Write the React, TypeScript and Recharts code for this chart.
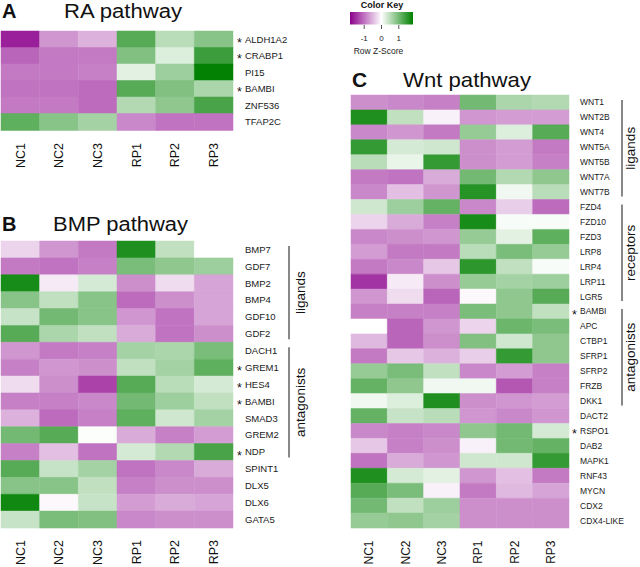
import React from 'react';
import { BarChart, Bar, XAxis, YAxis, Cell } from 'recharts';

// columns + colour key ticks
const samples = ['NC1', 'NC2', 'NC3', 'RP1', 'RP2', 'RP3'];
const sampleTicks = [0.5, 1.5, 2.5, 3.5, 4.5, 5.5];
const keyTicks = [-1, 0, 1];

// A - RA pathway (row z-scores)
const raGenes = ['ALDH1A2', 'CRABP1', 'PI15', 'BAMBI', 'ZNF536', 'TFAP2C'];
const raZ = [
  [-1.6, -0.75, -0.55, 1.2, 0.5, 0.85],
  [-1.1, -0.95, -0.95, 0.9, 0.25, 1.4],
  [-0.95, -0.95, -0.9, 0.2, 0.7, 1.8],
  [-1.0, -1.0, -1.05, 1.2, 0.9, 0.6],
  [-0.95, -0.95, -1.05, 0.55, 0.8, 1.3],
  [1.15, 0.85, 0.65, -0.85, -1.0, -1.0],
];
const raStarred = ['ALDH1A2', 'CRABP1', 'BAMBI'];

// B - BMP pathway
const bmpGenes = [
  'BMP7', 'GDF7', 'BMP2', 'BMP4', 'GDF10', 'GDF2', 'DACH1', 'GREM1', 'HES4',
  'BAMBI', 'SMAD3', 'GREM2', 'NDP', 'SPINT1', 'DLX5', 'DLX6', 'GATA5',
];
const bmpZ = [
  [-0.3, -0.75, -0.95, 1.6, 0.45, 0.0],
  [-0.95, -1.0, -0.9, 0.95, 0.8, 0.7],
  [1.65, -0.15, 0.3, -0.8, -0.25, -0.65],
  [0.85, 0.45, 0.85, -1.05, -0.8, -0.65],
  [0.4, 1.0, 0.85, -0.75, -1.0, -0.65],
  [1.2, 0.6, 0.45, -0.6, -1.0, -0.8],
  [-0.75, -0.95, -0.9, 0.65, 0.6, 0.95],
  [-0.9, -0.75, -0.8, 0.45, 0.65, 1.15],
  [-0.25, -0.8, -1.35, 1.2, 0.5, 0.3],
  [-0.9, -0.9, -0.85, 1.0, 0.7, 0.45],
  [-0.55, -1.05, -0.9, 1.15, 0.35, 0.65],
  [1.0, 1.2, 0.02, -0.6, -0.9, -0.7],
  [-0.9, -0.45, -1.0, 0.3, 0.55, 1.3],
  [1.2, 0.4, 0.65, -1.0, -0.85, -0.6],
  [0.85, 0.85, 0.45, -0.9, -0.8, -0.8],
  [1.7, -0.05, 0.4, -0.7, -0.6, -0.65],
  [0.4, 0.95, 0.9, -0.85, -0.8, -0.8],
];
const bmpStarred = ['GREM1', 'HES4', 'BAMBI', 'NDP'];
const bmpGroups = [
  { label: 'ligands', from: 0, to: 5 },
  { label: 'antagonists', from: 6, to: 12 },
];

// C - Wnt pathway
const wntGenes = [
  'WNT1', 'WNT2B', 'WNT4', 'WNT5A', 'WNT5B', 'WNT7A', 'WNT7B', 'FZD4', 'FZD10',
  'FZD3', 'LRP8', 'LRP4', 'LRP11', 'LGR5', 'BAMBI', 'APC', 'CTBP1', 'SFRP1',
  'SFRP2', 'FRZB', 'DKK1', 'DACT2', 'RSPO1', 'DAB2', 'MAPK1', 'RNF43', 'MYCN',
  'CDX2', 'CDX4-LIKE',
];
const wntZ = [
  [-0.8, -0.85, -0.9, 1.0, 0.6, 0.55],
  [1.6, 0.45, -0.1, -0.75, -0.7, -0.7],
  [-0.85, -0.75, -0.95, 0.75, 0.25, 1.2],
  [1.45, 0.3, 0.35, -0.8, -0.7, -0.95],
  [0.5, 0.15, 1.45, -0.8, -0.7, -0.9],
  [-0.95, -1.0, -0.6, 1.0, 0.55, 0.8],
  [-0.85, -0.45, -0.75, 1.55, 0.1, 0.5],
  [0.35, 0.7, 1.1, -0.85, -0.35, -1.05],
  [-0.3, -0.6, -0.9, 1.65, 0.05, 0.05],
  [-0.85, -0.8, -0.75, 0.75, 0.2, 1.15],
  [-0.7, -0.95, -0.95, 0.5, 0.95, 0.75],
  [-0.95, -0.85, -0.4, 1.5, 0.45, 0.05],
  [-1.45, -0.15, -0.8, 0.75, 0.65, 0.7],
  [-0.75, -0.25, -1.1, -0.05, 0.8, 1.2],
  [-0.9, -0.9, -0.9, 0.95, 0.8, 0.45],
  [0.0, -1.1, -0.75, -0.3, 1.05, 0.95],
  [-0.5, -1.1, -0.8, 0.9, 0.35, 0.8],
  [-0.95, -0.4, -0.55, -0.35, 1.45, 0.8],
  [0.75, 0.95, 0.45, -0.85, -0.7, -0.9],
  [1.1, 0.8, 0.1, 0.1, -1.2, -0.9],
  [0.1, 0.25, 1.6, -0.8, -0.75, -0.7],
  [1.1, 0.4, 0.5, -0.75, -0.85, -0.75],
  [-0.85, -0.9, -0.85, 0.8, 1.0, 0.3],
  [-0.4, -0.9, -0.8, -0.1, 1.0, 1.1],
  [-1.0, -0.6, -0.75, 0.35, 0.35, 1.45],
  [1.6, 0.3, 0.2, -0.75, -0.45, -0.95],
  [1.2, 0.95, -0.1, -0.95, -0.5, -0.65],
  [1.0, 0.45, 0.7, -0.8, -0.8, -0.8],
  [0.75, 0.8, 0.65, -0.8, -0.8, -0.8],
];
const wntStarred = ['BAMBI', 'RSPO1'];
const wntGroups = [
  { label: 'ligands', from: 0, to: 6 },
  { label: 'receptors', from: 7, to: 13 },
  { label: 'antagonists', from: 14, to: 20 },
];

const FONT = '"Liberation Sans", Arial, Helvetica, sans-serif';
const Z_MAX = 1.82;
const PURPLE = [140, 0, 140];
const WHITE = [255, 255, 255];
const GREEN = [0, 128, 0];

function zColor(z: number) {
  const t = Math.max(-1, Math.min(1, z / Z_MAX));
  const end = t < 0 ? PURPLE : GREEN;
  const a = Math.abs(t);
  const c = WHITE.map((w, k) => Math.round(w + (end[k] - w) * a));
  return `rgb(${c.join(',')})`;
}

type Group = { label: string; from: number; to: number };

type HeatmapProps = {
  genes: string[];
  z: number[][];
  starred: string[];
  groups?: Group[];
  width: number;
  height: number;
  plotTop: number;
  plotLeft: number;
  plotWidth: number;
  plotHeight: number;
  geneFont: number;
  geneGap: number;
  starGap: number;
  sampleFont: number;
  sampleGap: number;
  bracketX?: number;
  groupLabelX?: number;
};

function Heatmap(p: HeatmapProps) {
  const data = p.genes.map((g) => {
    const row: Record<string, string | number> = { gene: g };
    samples.forEach((s) => (row[s] = 1));
    return row;
  });
  const rowH = p.plotHeight / p.genes.length;

  return (
    <div style={{ position: 'relative', width: p.width, height: p.height }}>
      <BarChart
        width={p.width}
        height={p.height}
        data={data}
        layout="vertical"
        margin={{ top: p.plotTop, left: p.plotLeft, right: 0, bottom: 0 }}
        barCategoryGap={0}
        barGap={0}
      >
        <XAxis
          type="number"
          domain={[0, 6]}
          ticks={sampleTicks}
          interval={0}
          height={p.height - p.plotTop - p.plotHeight}
          axisLine={false}
          tickLine={false}
          tickSize={0}
          tickMargin={0}
          tick={(t: any) => {
            const y = t.y + p.sampleGap;
            return (
              <text
                x={t.x}
                y={y}
                dy="0.35em"
                transform={`rotate(-90, ${t.x}, ${y})`}
                textAnchor="end"
                fontSize={p.sampleFont}
                fontFamily={FONT}
                fill="#111"
              >
                {samples[Math.floor(t.payload.value)]}
              </text>
            );
          }}
        />
        <YAxis
          type="category"
          dataKey="gene"
          orientation="right"
          width={p.width - p.plotLeft - p.plotWidth}
          interval={0}
          axisLine={false}
          tickLine={false}
          tickSize={0}
          tickMargin={0}
          tick={(t: any) => (
            <g>
              {p.starred.includes(t.payload.value) && (
                <text x={t.x + p.starGap} y={t.y} dy="0.6em" fontSize={12.5} fontFamily={FONT} fill="#111">
                  *
                </text>
              )}
              <text x={t.x + p.geneGap} y={t.y} dy="0.35em" fontSize={p.geneFont} fontFamily={FONT} fill="#1a1a1a">
                {t.payload.value}
              </text>
            </g>
          )}
        />
        {samples.map((s, j) => (
          <Bar key={s} dataKey={s} stackId="cells" isAnimationActive={false}>
            {p.genes.map((g, i) => (
              <Cell key={g} fill={zColor(p.z[i][j])} stroke={zColor(p.z[i][j])} strokeWidth={0.5} />
            ))}
          </Bar>
        ))}
      </BarChart>
      {p.groups && (
        <svg
          width={p.width}
          height={p.height}
          style={{ position: 'absolute', left: 0, top: 0, pointerEvents: 'none' }}
        >
          {p.groups.map((grp) => {
            const y1 = p.plotTop + grp.from * rowH + 5;
            const y2 = p.plotTop + (grp.to + 1) * rowH - 3;
            const mid = (y1 + y2) / 2;
            return (
              <g key={grp.label}>
                <line x1={p.bracketX} x2={p.bracketX} y1={y1} y2={y2} stroke="#111" strokeWidth={1} />
                <text
                  x={p.groupLabelX}
                  y={mid}
                  dy="0.35em"
                  transform={`rotate(-90, ${p.groupLabelX}, ${mid})`}
                  textAnchor="middle"
                  fontSize={13.5}
                  fontFamily={FONT}
                  fill="#111"
                >
                  {grp.label}
                </text>
              </g>
            );
          })}
        </svg>
      )}
    </div>
  );
}

function Title({ letter, text, x, y, tx, tw, size }: { letter: string; text: string; x: number; y: number; tx: number; tw: number; size: number }) {
  return (
    <g fontFamily={FONT} fill="#111">
      <text x={x} y={y} fontSize={size} fontWeight="bold">
        {letter}
      </text>
      <text x={tx} y={y} fontSize={size} textLength={tw} lengthAdjust="spacingAndGlyphs">
        {text}
      </text>
    </g>
  );
}

function ColorKey() {
  const x0 = 350;
  const x1 = 413;
  const zx = (z: number) => 381.5 + (z / Z_MAX) * 31.5;
  const stops = [-Z_MAX, -1, 0, 1, Z_MAX];
  return (
    <g fontFamily={FONT} fill="#222">
      <defs>
        <linearGradient id="zkey" x1="0" x2="1" y1="0" y2="0">
          {stops.map((z) => (
            <stop key={z} offset={(zx(z) - x0) / (x1 - x0)} stopColor={zColor(z)} />
          ))}
        </linearGradient>
      </defs>
      <text x={382} y={7.5} fontSize={9} fontWeight="bold" textAnchor="middle" fill="#111">
        Color Key
      </text>
      <rect x={x0} y={12} width={x1 - x0} height={12.5} fill="url(#zkey)" />
      {keyTicks.map((k) => (
        <g key={k}>
          <line x1={zx(k)} x2={zx(k)} y1={25} y2={29} stroke="#555" strokeWidth={1} />
          <text x={zx(k)} y={40.5} fontSize={8} textAnchor="middle">
            {k}
          </text>
        </g>
      ))}
      <text x={378.5} y={54} fontSize={8.5} textAnchor="middle">
        Row Z-Score
      </text>
    </g>
  );
}

export default function App() {
  return (
    <div style={{ position: 'relative', width: 640, height: 567, background: '#fff', overflow: 'hidden' }}>
      <style>{'body{margin:0}'}</style>
      <div style={{ position: 'absolute', left: 0, top: 0 }}>
        <Heatmap
          genes={raGenes}
          z={raZ}
          starred={raStarred}
          width={320}
          height={175}
          plotTop={31}
          plotLeft={1}
          plotWidth={232}
          plotHeight={99}
          geneFont={9.5}
          geneGap={12}
          starGap={4}
          sampleFont={12.5}
          sampleGap={13}
        />
      </div>
      <div style={{ position: 'absolute', left: 0, top: 210 }}>
        <Heatmap
          genes={bmpGenes}
          z={bmpZ}
          starred={bmpStarred}
          groups={bmpGroups}
          width={320}
          height={357}
          plotTop={31}
          plotLeft={1}
          plotWidth={232}
          plotHeight={287}
          geneFont={9.5}
          geneGap={12}
          starGap={4}
          sampleFont={12.5}
          sampleGap={12}
          bracketX={289}
          groupLabelX={300}
        />
      </div>
      <div style={{ position: 'absolute', left: 320, top: 0 }}>
        <Heatmap
          genes={wntGenes}
          z={wntZ}
          starred={wntStarred}
          groups={wntGroups}
          width={320}
          height={567}
          plotTop={95}
          plotLeft={31}
          plotWidth={218}
          plotHeight={433}
          geneFont={8.5}
          geneGap={11}
          starGap={3}
          sampleFont={12}
          sampleGap={12.5}
          bracketX={302}
          groupLabelX={310}
        />
      </div>
      <svg width={640} height={567} style={{ position: 'absolute', left: 0, top: 0, pointerEvents: 'none' }}>
        <Title letter="A" text="RA pathway" x={2} y={17.5} tx={64} tw={118} size={20} />
        <Title letter="B" text="BMP pathway" x={2} y={231} tx={53} tw={135} size={20} />
        <Title letter="C" text="Wnt pathway" x={352} y={86.5} tx={403} tw={128} size={21} />
        <ColorKey />
      </svg>
    </div>
  );
}
